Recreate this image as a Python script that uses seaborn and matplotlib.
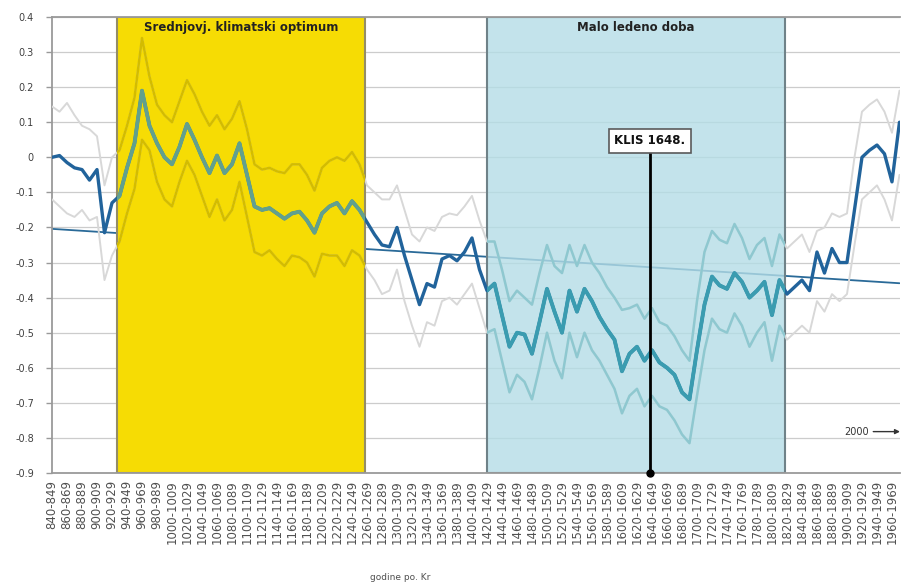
import numpy as np
import pandas as pd
import matplotlib
matplotlib.use("Agg")
import matplotlib.pyplot as plt
import seaborn as sns
from matplotlib.patches import Rectangle

# Decadal temperature anomalies (°C) with the upper / lower uncertainty bounds
decade_start = list(range(840, 1971, 10))
decades = [f"{y}-{y + 9}" for y in decade_start]

mean = [
    0.0, 0.005, -0.015, -0.03, -0.035, -0.065, -0.035, -0.215, -0.13, -0.11,
    -0.03, 0.04, 0.19, 0.09, 0.04, 0.0, -0.02, 0.03, 0.095, 0.05,
    0.0, -0.045, 0.005, -0.045, -0.02, 0.04, -0.05, -0.14, -0.15, -0.145,
    -0.16, -0.175, -0.16, -0.155, -0.18, -0.215, -0.16, -0.14, -0.13, -0.16,
    -0.125, -0.15, -0.185, -0.22, -0.25, -0.255, -0.2, -0.28, -0.35, -0.42,
    -0.36, -0.37, -0.29, -0.28, -0.295, -0.27, -0.23, -0.32, -0.38, -0.36,
    -0.45, -0.54, -0.5, -0.505, -0.56, -0.47, -0.375, -0.44, -0.5, -0.38,
    -0.44, -0.375, -0.41, -0.455, -0.49, -0.52, -0.61, -0.56, -0.54, -0.58,
    -0.55, -0.585, -0.6, -0.62, -0.67, -0.69, -0.55, -0.42, -0.34, -0.365,
    -0.375, -0.33, -0.355, -0.4, -0.38, -0.355, -0.45, -0.35, -0.39, -0.37,
    -0.35, -0.38, -0.27, -0.33, -0.26, -0.3, -0.3, -0.15, 0.0, 0.02,
    0.035, 0.01, -0.07, 0.1,
]
upper = [
    0.145, 0.13, 0.155, 0.12, 0.09, 0.08, 0.06, -0.08, 0.0, 0.02,
    0.09, 0.17, 0.34, 0.23, 0.15, 0.12, 0.1, 0.16, 0.22, 0.18,
    0.13, 0.09, 0.12, 0.08, 0.11, 0.16, 0.08, -0.02, -0.035, -0.03,
    -0.04, -0.045, -0.02, -0.02, -0.05, -0.095, -0.03, -0.01, 0.0, -0.01,
    0.015, -0.02, -0.08, -0.1, -0.12, -0.12, -0.08, -0.15, -0.22, -0.24,
    -0.2, -0.21, -0.17, -0.16, -0.165, -0.14, -0.11, -0.18, -0.24, -0.24,
    -0.32, -0.41, -0.38, -0.4, -0.42, -0.33, -0.25, -0.31, -0.33, -0.25,
    -0.31, -0.25, -0.3, -0.33, -0.37, -0.4, -0.435, -0.43, -0.42, -0.46,
    -0.43, -0.47, -0.48, -0.51, -0.55, -0.58, -0.41, -0.27, -0.21, -0.235,
    -0.245, -0.19, -0.23, -0.29, -0.25, -0.23, -0.31, -0.22, -0.26, -0.24,
    -0.22, -0.27, -0.21, -0.2, -0.16, -0.17, -0.16, 0.0, 0.13, 0.15,
    0.165, 0.13, 0.07, 0.19,
]
lower = [
    -0.12, -0.14, -0.16, -0.17, -0.15, -0.18, -0.17, -0.35, -0.28, -0.24,
    -0.16, -0.09, 0.05, 0.02, -0.07, -0.12, -0.14, -0.07, -0.01, -0.05,
    -0.11, -0.17, -0.12, -0.18, -0.15, -0.07, -0.17, -0.27, -0.28, -0.265,
    -0.29, -0.31, -0.28, -0.285, -0.3, -0.34, -0.275, -0.28, -0.28, -0.31,
    -0.265, -0.28, -0.32, -0.35, -0.39, -0.38, -0.32, -0.41, -0.48, -0.54,
    -0.47, -0.48, -0.41, -0.4, -0.42, -0.39, -0.36, -0.43, -0.5, -0.49,
    -0.58, -0.67, -0.62, -0.64, -0.69, -0.6, -0.5, -0.58, -0.63, -0.5,
    -0.57, -0.5, -0.55, -0.58, -0.62, -0.66, -0.73, -0.68, -0.66, -0.71,
    -0.68, -0.71, -0.72, -0.75, -0.79, -0.815, -0.68, -0.55, -0.46, -0.49,
    -0.5, -0.445, -0.48, -0.54, -0.5, -0.47, -0.58, -0.48, -0.52, -0.5,
    -0.48, -0.5, -0.41, -0.44, -0.39, -0.41, -0.39, -0.25, -0.12, -0.1,
    -0.08, -0.12, -0.18, -0.05,
]
# Linear trend of the series at its first and last decade
trend_ends = [-0.204, -0.359]

y_ticks = [0.4, 0.3, 0.2, 0.1, 0.0, -0.1, -0.2, -0.3, -0.4, -0.5, -0.6, -0.7, -0.8, -0.9]
y_tick_labels = ["0.4", "0.3", "0.2", "0.1", "0", "-0.1", "-0.2", "-0.3",
                 "-0.4", "-0.5", "-0.6", "-0.7", "-0.8", "-0.9"]

df = pd.DataFrame({"pos": np.arange(len(decades)), "decade": decades,
                   "mean": mean, "upper": upper, "lower": lower})

sns.set_theme(style="white")
plt.rcParams["font.family"] = ["DejaVu Sans"]

fig = plt.figure(figsize=(9.01, 5.88), dpi=100)
ax = fig.add_axes([52 / 901, 1 - 473 / 588, 848 / 901, 456 / 588])

ymin, ymax = -0.9, 0.4
ax.set_xlim(0, 113.07)
ax.set_ylim(ymin, ymax)

# horizontal gridlines
ax.set_yticks(y_ticks)
ax.set_yticklabels(y_tick_labels, fontsize=7, color="#404040")
ax.grid(axis="y", color="#cccccc", lw=0.9, zorder=0.5)
ax.set_axisbelow(True)

# trend line
trend_df = pd.DataFrame({"pos": [0, len(decades) - 1], "val": trend_ends})
sns.lineplot(data=trend_df, x="pos", y="val", color="#2a6a98", lw=1.3, ax=ax, zorder=1)

# period shading
mwp = Rectangle((8.67, ymin), 41.73 - 8.67, ymax - ymin, facecolor="#f6dc04",
                edgecolor="#948d66", lw=1.5, zorder=2)
lia = Rectangle((58.0, ymin), 97.73 - 58.0, ymax - ymin,
                facecolor=(0.706, 0.867, 0.902, 0.8),
                edgecolor="#6f8288", lw=1.5, zorder=2)
ax.add_patch(mwp)
ax.add_patch(lia)

# series: base colours, then recoloured copies inside each period
styles = [("upper", 1.4, 3), ("lower", 1.4, 3), ("mean", 2.4, 4)]
base = {"upper": "#d8d8d8", "lower": "#d8d8d8", "mean": "#21639b"}
in_mwp = {"upper": "#d3bc00", "lower": "#d3bc00", "mean": "#62a08e"}
in_lia = {"upper": "#8ec8d0", "lower": "#8ec8d0", "mean": "#3a9cb0"}

for col, lw, z in styles:
    sns.lineplot(data=df, x="pos", y=col, color=base[col], lw=lw, ax=ax, zorder=z)
    for colors, patch in ((in_mwp, mwp), (in_lia, lia)):
        sns.lineplot(data=df, x="pos", y=col, color=colors[col], lw=lw + 0.4,
                     ax=ax, zorder=z + 0.1)
        ax.lines[-1].set_clip_path(patch)

# period titles
ax.text(25.2, 0.369, "Srednjovj. klimatski optimum", ha="center", va="center",
        fontsize=8.5, fontweight="bold", color="#222222", zorder=6)
ax.text(77.9, 0.369, "Malo ledeno doba", ha="center", va="center",
        fontsize=8.5, fontweight="bold", color="#222222", zorder=6)

# KLIS 1648 marker
klis_pos = 79.7
ax.plot([klis_pos, klis_pos], [ymin, 0.015], color="black", lw=2, zorder=5,
        clip_on=False)
ax.plot([klis_pos], [ymin], "o", ms=5, color="black", zorder=5, clip_on=False)
ax.text(klis_pos, 0.047, "KLIS 1648.", ha="center", va="center", fontsize=8.5,
        fontweight="bold", color="#111111", zorder=6,
        bbox=dict(boxstyle="square,pad=0.45", fc="white", ec="#5a5a5a", lw=1.2))

# 2000 arrow
ax.annotate("2000", xy=(113.07, -0.782), xytext=(105.6, -0.782), ha="left",
            va="center", fontsize=7, color="#333333", zorder=6,
            arrowprops=dict(arrowstyle="-|>", color="#333333", lw=1,
                            shrinkA=1, shrinkB=0, mutation_scale=7))

# x axis: a tick per decade, a label on every second one
ax.set_xticks(df["pos"])
ax.set_xticklabels([d if i % 2 == 0 else "" for i, d in enumerate(decades)],
                   rotation=90, fontsize=8.5, color="#505050")
ax.tick_params(axis="x", length=4, width=1, color="#555555", direction="inout",
               pad=3)
ax.tick_params(axis="y", length=4, width=1, color="#999999", direction="out",
               pad=9, left=True)
ax.set_xlabel("")
ax.set_ylabel("")

for side in ("left", "top", "bottom"):
    ax.spines[side].set_color("#9a9a9a")
    ax.spines[side].set_linewidth(1.3)
ax.spines["right"].set_visible(False)

fig.text(400 / 901, 1 - 577 / 588, "godine po. Kr", ha="center", va="center",
         fontsize=6.5, color="#505050")

fig.savefig("out.png", dpi=100, facecolor="white")
